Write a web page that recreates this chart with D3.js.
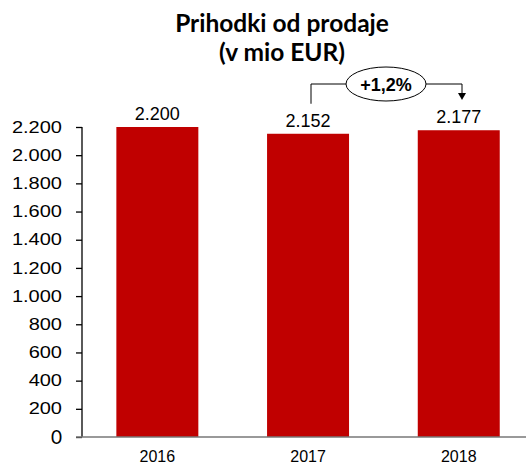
<!DOCTYPE html>
<html>
<head>
<meta charset="utf-8">
<script src="https://cdn.jsdelivr.net/npm/d3@7"></script>
<style>
  body { margin: 0; background: #fff; }
  svg { display: block; }
  .tick text { font-family: "Liberation Sans", Arial, sans-serif; font-size: 16px; fill: #000; }
</style>
</head>
<body>
<svg width="526" height="464"></svg>
<script>
const years = ["2016", "2017", "2018"];
const revenue = [2200, 2152, 2177];
const yTicks = [0, 200, 400, 600, 800, 1000, 1200, 1400, 1600, 1800, 2000, 2200];
const titleLines = ["Prihodki od prodaje", "(v mio EUR)"];
const changeLabel = "+1,2%";

const svg = d3.select("svg");
const w = +svg.attr("width");
const baseY = 437;
const topY = 127;
const left = 82;

const fmt = v => d3.format(",")(v).replace(/,/g, ".");

const x = d3.scaleBand()
  .domain(years)
  .range([left, left + 3 * 150.7])
  .paddingInner(0.456)
  .paddingOuter(0.228);

const y = d3.scaleLinear()
  .domain([0, 2200])
  .range([baseY, topY]);

// title
svg.append("text")
  .attr("x", 282)
  .attr("y", 32)
  .attr("text-anchor", "middle")
  .style("font-family", "Lato, 'Open Sans', sans-serif")
  .style("font-weight", "bold")
  .style("font-size", "24.5px")
  .selectAll("tspan")
  .data(titleLines)
  .enter().append("tspan")
  .attr("x", 282)
  .attr("dy", (d, i) => i ? 29 : 0)
  .text(d => d);

// y axis
const yAxis = svg.append("g")
  .attr("transform", `translate(${left},0)`)
  .call(d3.axisLeft(y).tickValues(yTicks).tickFormat(fmt).tickSize(6));
yAxis.select(".domain").attr("d", `M0,${topY}V${baseY}`).attr("stroke", "#000").attr("stroke-width", 1.3);
yAxis.selectAll(".tick line").attr("stroke", "#000").attr("stroke-width", 1.3);
yAxis.selectAll(".tick text")
  .attr("x", -20 / 1.25)
  .attr("transform", "scale(1.25,1)");
yAxis.selectAll(".tick text").filter(d => d === 0)
  .attr("x", -20)
  .attr("transform", null)
  .style("font-family", "Lato, sans-serif")
  .style("font-size", "19px");

// bars
svg.selectAll(".bar")
  .data(revenue)
  .enter().append("rect")
  .attr("class", "bar")
  .attr("x", (d, i) => x(years[i]))
  .attr("y", d => y(d))
  .attr("width", x.bandwidth())
  .attr("height", d => baseY - y(d))
  .attr("fill", "#C00000");

// value labels
svg.selectAll(".val")
  .data(revenue)
  .enter().append("text")
  .attr("class", "val")
  .attr("x", (d, i) => x(years[i]) + x.bandwidth() / 2)
  .attr("y", d => y(d) - 7)
  .attr("text-anchor", "middle")
  .style("font-family", "'Liberation Sans', Arial, sans-serif")
  .style("font-size", "18px")
  .text(fmt);

// x axis
const xAxis = svg.append("g")
  .attr("transform", `translate(0,${baseY})`)
  .call(d3.axisBottom(x).tickSize(0).tickPadding(10));
xAxis.select(".domain").attr("d", `M76,0H${w}`).attr("stroke", "#777").attr("stroke-width", 1.6);
xAxis.selectAll(".tick text").attr("dy", "0.95em");

// change annotation
const x1 = 311, x2 = 462, ay = 84;
const cx = 386, rx = 40, ry = 17;
svg.append("path")
  .attr("d", `M${x1},${y(revenue[1]) - 30}V${ay}H${cx - rx}M${cx + rx},${ay}H${x2}V${ay + 10}`)
  .attr("fill", "none")
  .attr("stroke", "#000")
  .attr("stroke-width", 1);
svg.append("path")
  .attr("d", `M${x2 - 4},${ay + 9}L${x2 + 4},${ay + 9}L${x2},${ay + 16}Z`)
  .attr("fill", "#000");
svg.append("ellipse")
  .attr("cx", cx).attr("cy", ay)
  .attr("rx", rx).attr("ry", ry)
  .attr("fill", "#fff")
  .attr("stroke", "#000");
svg.append("text")
  .attr("x", cx)
  .attr("y", ay + 6.5)
  .attr("text-anchor", "middle")
  .style("font-family", "'Liberation Sans', Arial, sans-serif")
  .style("font-weight", "bold")
  .style("font-size", "18px")
  .text(changeLabel);
</script>
</body>
</html>
